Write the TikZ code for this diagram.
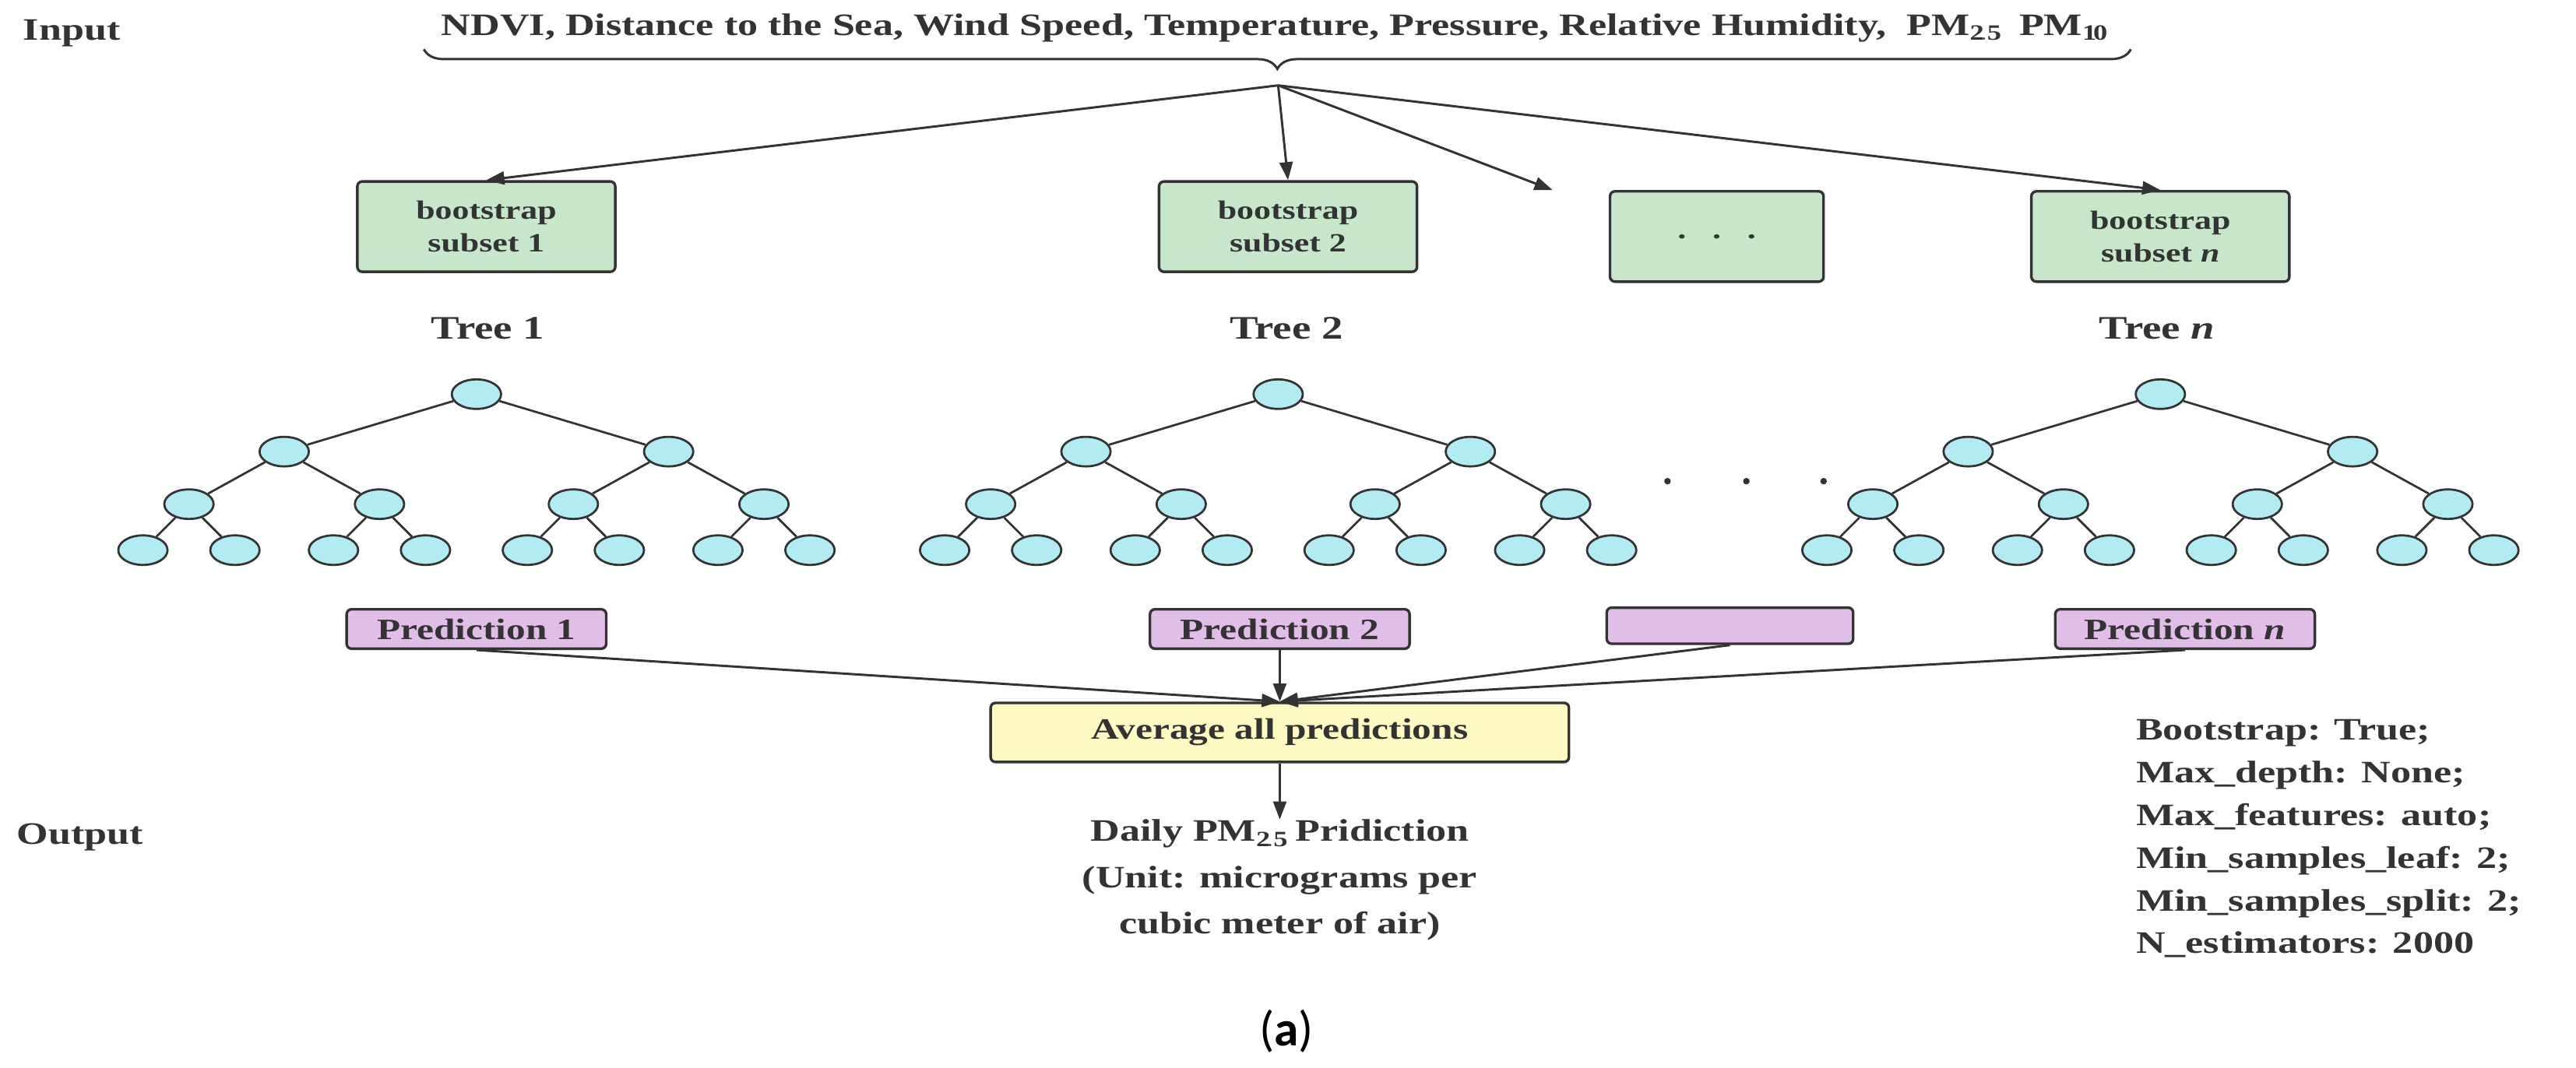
\documentclass[tikz,border=0pt]{standalone}
\usepackage{fontspec}
\setmainfont{Liberation Serif}[FakeStretch=1.3]
\newfontfamily\capfont{Carlito}
\usetikzlibrary{arrows.meta,decorations.pathreplacing,shapes.geometric}
\definecolor{gbox}{RGB}{200,230,201}
\definecolor{pbox}{RGB}{225,190,231}
\definecolor{ybox}{RGB}{255,249,196}
\definecolor{tnode}{RGB}{178,235,242}
\definecolor{ln}{RGB}{51,51,51}
\begin{document}
\begin{tikzpicture}[x=1pt,y=-1pt,
  txt/.style={font=\bfseries\fontsize{19}{22}\selectfont, text=ln, inner sep=0pt},
  box/.style={draw=ln, line width=1.6pt, rounded corners=3pt, font=\bfseries\fontsize{18}{21}\selectfont, text=ln, align=center, inner sep=0pt},
  gb/.style={box, font=\bfseries\fontsize{16}{20}\selectfont, fill=gbox, minimum width=157pt, minimum height=55pt},
  pb/.style={box, fill=pbox, minimum width=158pt, minimum height=24pt},
  tn/.style={draw=ln, line width=1.3pt, fill=tnode, ellipse, minimum width=30pt, minimum height=18pt, inner sep=0pt},
  ed/.style={draw=ln, line width=1.3pt},
  arr/.style={draw=ln, line width=1.4pt, -{Triangle[length=11pt,width=8pt]}}]
\useasboundingbox (0,0) rectangle (1568,650);
\node[txt, anchor=west] (in) at (14,20) {Input};
\node[txt, anchor=west] (out) at (10,510) {Output};
\node[txt] (feat) at (775,17) {NDVI, Distance to the Sea, Wind Speed, Temperature, Pressure, Relative Humidity,\ \ PM$_{\mathbf{2.5}}$\ \ PM$_{\mathbf{10}}$};
\draw[ln, line width=1.4pt, decorate, decoration={brace, mirror, amplitude=12pt}] (258,30) -- (1297,30);
\coordinate (tip) at (778,52);
\node[gb] (b1) at (296,138) {bootstrap\\subset 1};
\node[gb] (b2) at (784,138) {bootstrap\\subset 2};
\node[gb, minimum width=130pt] (b3) at (1045,144) {.\quad .\quad .};
\node[gb] (bn) at (1315,144) {bootstrap\\subset \textit{n}};
\draw[arr] (tip) -- (b1.north);
\draw[arr] (tip) -- (b2.north);
\draw[arr] (tip) -- ([xshift=-100pt]b3.north);
\draw[arr] (tip) -- (bn.north);
\node[txt, font=\bfseries\fontsize{20}{22}\selectfont] (t1) at (297,200) {Tree 1};
\node[txt, font=\bfseries\fontsize{20}{22}\selectfont] (t2) at (783,200) {Tree 2};
\node[txt, font=\bfseries\fontsize{20}{22}\selectfont] (tn) at (1313,200) {Tree \textit{n}};
\foreach \T/\r in {a/290,b/778,c/1315}{
  \node[tn] (\T) at (\r,240) {};
  \foreach \i/\s in {0/-1,1/1}{
    \node[tn] (\T\i) at (\r+\s*117,275) {};
    \draw[ed] (\T) -- (\T\i);
    \foreach \j/\t in {0/-1,1/1}{
      \node[tn] (\T\i\j) at (\r+\s*117+\t*58,307) {};
      \draw[ed] (\T\i) -- (\T\i\j);
      \foreach \k/\u in {0/-1,1/1}{
        \node[tn] (\T\i\j\k) at (\r+\s*117+\t*58+\u*28,335) {};
        \draw[ed] (\T\i\j) -- (\T\i\j\k);
      }
    }
  }
}
\foreach \x in {1015,1063,1110}{\fill[ln] (\x,293) circle (2pt);}
\node[pb] (p1) at (290,383) {Prediction 1};
\node[pb] (p2) at (779,383) {Prediction 2};
\node[pb, minimum width=150pt, minimum height=22pt] (p3) at (1053,381) {};
\node[pb] (pn) at (1330,383) {Prediction \textit{n}};
\node[box, fill=ybox, minimum width=352pt, minimum height=36pt] (avg) at (779,446) {Average all predictions};
\draw[arr] (p1.south) -- (avg.north);
\draw[arr] (p2.south) -- (avg.north);
\draw[arr] (p3.south) -- (avg.north);
\draw[arr] (pn.south) -- (avg.north);
\node[txt, align=center, anchor=north] (res) at (779,499) {Daily PM$_{\mathbf{2.5}}$ Pridiction\\[6pt](Unit: micrograms per\\[6pt]cubic meter of air)};
\draw[arr] (avg.south) -- (res.north);
\node[txt, align=left, anchor=north west] (par) at (1300,438) {Bootstrap: True;\\[4pt]Max\_depth: None;\\[4pt]Max\_features: auto;\\[4pt]Min\_samples\_leaf: 2;\\[4pt]Min\_samples\_split: 2;\\[4pt]N\_estimators: 2000};
\node[font=\capfont\fontsize{30}{34}\selectfont, text=black] (cap) at (783,628) {(\textbf{a})};
\end{tikzpicture}
\end{document}
